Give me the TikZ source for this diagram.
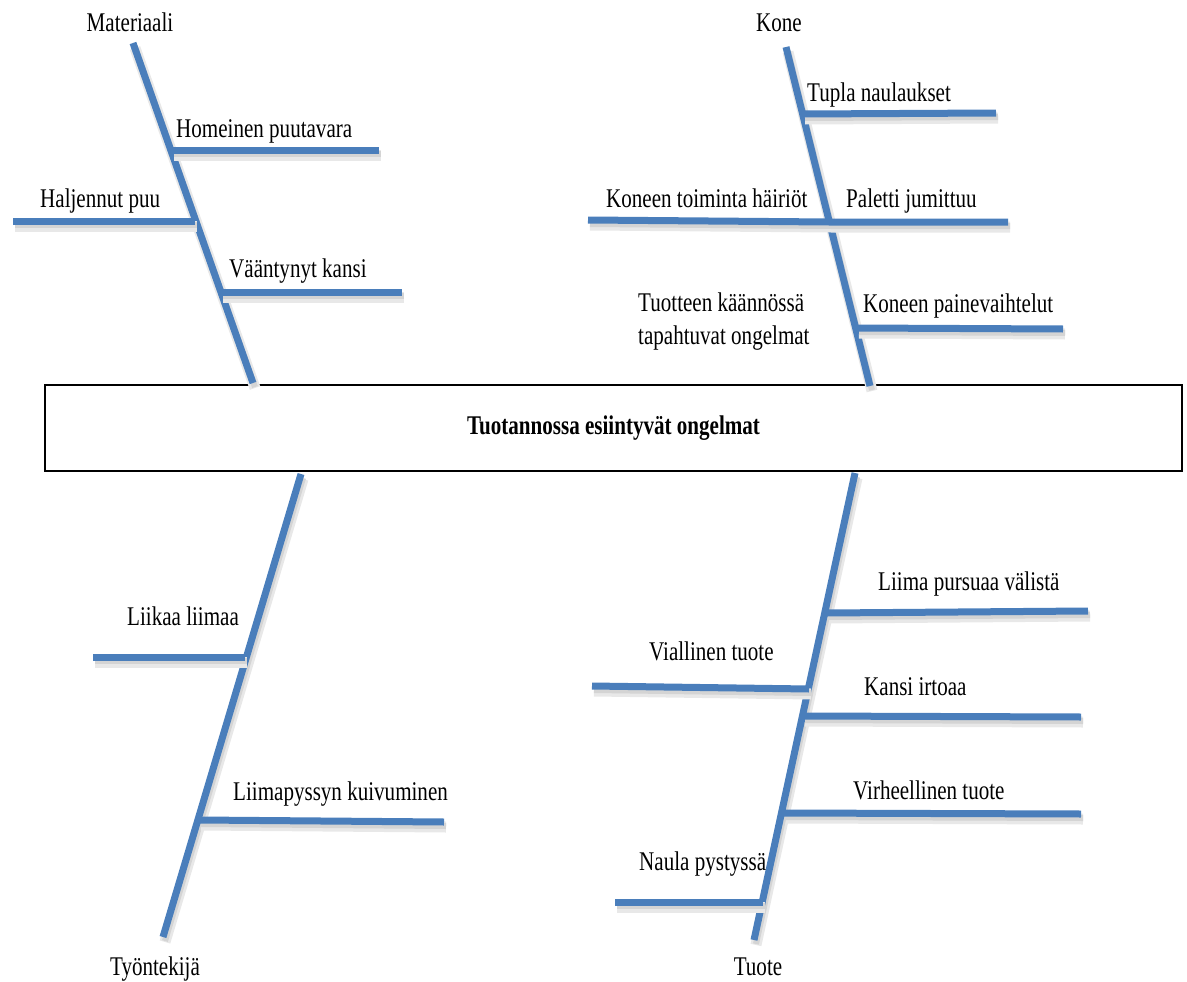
\documentclass[tikz,border=0pt]{standalone}
\usepackage{fontspec}
\setmainfont{Liberation Serif}[FakeStretch=0.78]
\definecolor{bonecol}{HTML}{4A7EBB}
\begin{document}
\begin{tikzpicture}[x=1pt, y=-1pt, font=\fontsize{27}{33}\selectfont]
      \tikzstyle{bone}=[draw=bonecol, line width=7pt,
        preaction={draw=black!9, line width=11pt, transform canvas={shift={(2,5)}}},
        preaction={draw=black!17, line width=6pt, transform canvas={shift={(2,4)}}}]
      \tikzstyle{cause}=[anchor=base west, inner sep=0pt]
      \tikzstyle{head}=[anchor=base, inner sep=0pt]
      \useasboundingbox (0,0) rectangle (1187,982);
      % problem box
      \node[draw, line width=2pt, minimum width=1137pt, minimum height=86pt, font=\fontsize{27}{33}\selectfont\bfseries] (problem) at (613.5,428) {Tuotannossa esiintyvät ongelmat};
      % category labels
      \node[head] (mat) at (130,32) {Materiaali};
      \node[head] (kone) at (779,32) {Kone};
      \node[head] (tyo) at (155,975) {Työntekijä};
      \node[head] (tuote) at (758,975) {Tuote};
      % spine ends
      \coordinate (mat top) at (133,43);  \coordinate (mat foot) at (253,383);
      \coordinate (kone top) at (786,47); \coordinate (kone foot) at (870,386);
      \coordinate (tyo foot) at (163,937); \coordinate (tyo top) at (301,474);
      \coordinate (tuote foot) at (754,940); \coordinate (tuote top) at (855,473);
      \draw[bone] (mat top) -- (mat foot);
      \draw[bone] (kone top) -- (kone foot);
      \draw[bone] (tyo top) -- (tyo foot);
      \draw[bone] (tuote top) -- (tuote foot);
      % Materiaali
      \coordinate (m1) at (172,150); \coordinate (m1 end) at (379,150);
      \coordinate (m2) at (195,221); \coordinate (m2 end) at (13,221);
      \coordinate (m3) at (221,292); \coordinate (m3 end) at (402,292);
      \draw[bone] (m1) -- (m1 end);
      \draw[bone] (m2) -- (m2 end);
      \draw[bone] (m3) -- (m3 end);
      \node[cause] (homeinen) at (176,137) {Homeinen puutavara};
      \node[cause] (haljennut) at (40,207) {Haljennut puu};
      \node[cause] (vaantynyt) at (229,277) {Vääntynyt kansi};
      % Kone
      \coordinate (k1) at (803,114); \coordinate (k1 end) at (996,113);
      \coordinate (k2 end) at (588,220); \coordinate (k2) at (829,222); \coordinate (k3 end) at (1008,222);
      \coordinate (k4) at (857,328); \coordinate (k4 end) at (1063,329);
      \draw[bone] (k1) -- (k1 end);
      \draw[bone] (k2 end) -- (k2) -- (k3 end);
      \draw[bone] (k4) -- (k4 end);
      \node[cause] (tupla) at (807,102) {Tupla naulaukset};
      \node[cause] (toiminta) at (606,207) {Koneen toiminta häiriöt};
      \node[cause] (paletti) at (846,207) {Paletti jumittuu};
      \node[cause] (paine) at (863,312) {Koneen painevaihtelut};
      \node[anchor=north west, inner sep=0pt, align=left] (kaanto) at (638,293) {Tuotteen käännössä\\tapahtuvat ongelmat};
      % Tyontekija
      \coordinate (t1) at (245,657); \coordinate (t1 end) at (93,657);
      \coordinate (t2) at (199,820); \coordinate (t2 end) at (444,822);
      \draw[bone] (t1) -- (t1 end);
      \draw[bone] (t2) -- (t2 end);
      \node[cause] (liikaa) at (127,625) {Liikaa liimaa};
      \node[cause] (kuivuminen) at (233,800) {Liimapyssyn kuivuminen};
      % Tuote
      \coordinate (u1) at (827,613); \coordinate (u1 end) at (1088,611);
      \coordinate (u2) at (809,689); \coordinate (u2 end) at (592,686);
      \coordinate (u3) at (803,716); \coordinate (u3 end) at (1081,717);
      \coordinate (u4) at (784,813); \coordinate (u4 end) at (1081,814);
      \coordinate (u5) at (763,902); \coordinate (u5 end) at (615,902);
      \draw[bone] (u1) -- (u1 end);
      \draw[bone] (u2) -- (u2 end);
      \draw[bone] (u3) -- (u3 end);
      \draw[bone] (u4) -- (u4 end);
      \draw[bone] (u5) -- (u5 end);
      \node[cause] (liima) at (878,590) {Liima pursuaa välistä};
      \node[cause] (viallinen) at (649,660) {Viallinen tuote};
      \node[cause] (kansi) at (864,695) {Kansi irtoaa};
      \node[cause] (virhe) at (853,799) {Virheellinen tuote};
      \node[cause] (naula) at (639,870) {Naula pystyssä};
     \end{tikzpicture}
\end{document}
